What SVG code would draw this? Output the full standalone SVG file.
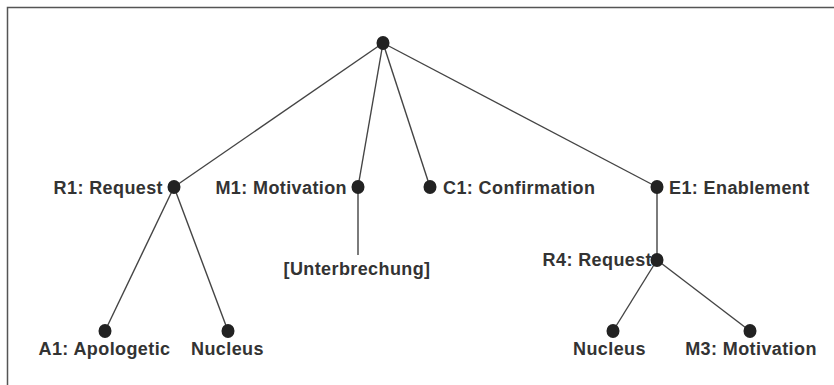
<svg xmlns="http://www.w3.org/2000/svg" width="834" height="385" viewBox="0 0 834 385">
<style>
.frame{fill:none;stroke:#555;stroke-width:1.5}
.edge{stroke:#444;stroke-width:1.4;fill:none}
.node{fill:#222}
text{font-family:"Liberation Sans",Arial,sans-serif;font-weight:bold;font-size:18px;fill:#333;letter-spacing:0.4px}
.l{text-anchor:end}
.r{text-anchor:start}
.m{text-anchor:middle}
</style>
<rect width="834" height="385" fill="#fff"/>
<path class="frame" d="M834,7.5 H7.5 V385"/>
<g id="connectors">
<line class="edge" x1="383" y1="43" x2="174" y2="187"/>
<line class="edge" x1="383" y1="43" x2="358" y2="187"/>
<line class="edge" x1="383" y1="43" x2="430" y2="187"/>
<line class="edge" x1="383" y1="43" x2="657" y2="187"/>
<line class="edge" x1="174" y1="187" x2="105" y2="331"/>
<line class="edge" x1="174" y1="187" x2="228" y2="331"/>
<line class="edge" x1="358" y1="187" x2="358" y2="255"/>
<line class="edge" x1="657" y1="187" x2="657" y2="260"/>
<line class="edge" x1="657" y1="260" x2="613" y2="331"/>
<line class="edge" x1="657" y1="260" x2="750" y2="331"/>
</g>
<g id="root"><ellipse class="node" cx="383" cy="43" rx="6.5" ry="7"/></g>
<g id="R1"><ellipse class="node" cx="174" cy="187" rx="6.5" ry="7"/><text class="l" x="163" y="194">R1: Request</text></g>
<g id="M1"><ellipse class="node" cx="358" cy="187" rx="6.5" ry="7"/><text class="l" x="347" y="194">M1: Motivation</text></g>
<g id="C1"><ellipse class="node" cx="430" cy="187" rx="6.5" ry="7"/><text class="r" x="443" y="194">C1: Confirmation</text></g>
<g id="E1"><ellipse class="node" cx="657" cy="187" rx="6.5" ry="7"/><text class="r" x="669" y="194">E1: Enablement</text></g>
<g id="Unterbrechung"><text class="m" x="357" y="275">[Unterbrechung]</text></g>
<g id="R4"><ellipse class="node" cx="657" cy="260" rx="6.5" ry="7"/><text class="l" x="652" y="266">R4: Request</text></g>
<g id="A1"><ellipse class="node" cx="105" cy="331" rx="6.5" ry="7"/><text class="m" x="104.5" y="355">A1: Apologetic</text></g>
<g id="Nucleus1"><ellipse class="node" cx="228" cy="331" rx="6.5" ry="7"/><text class="m" x="227.5" y="355">Nucleus</text></g>
<g id="Nucleus2"><ellipse class="node" cx="613" cy="331" rx="6.5" ry="7"/><text class="m" x="609.5" y="355">Nucleus</text></g>
<g id="M3"><ellipse class="node" cx="750" cy="331" rx="6.5" ry="7"/><text class="m" x="751" y="355">M3: Motivation</text></g>
</svg>
